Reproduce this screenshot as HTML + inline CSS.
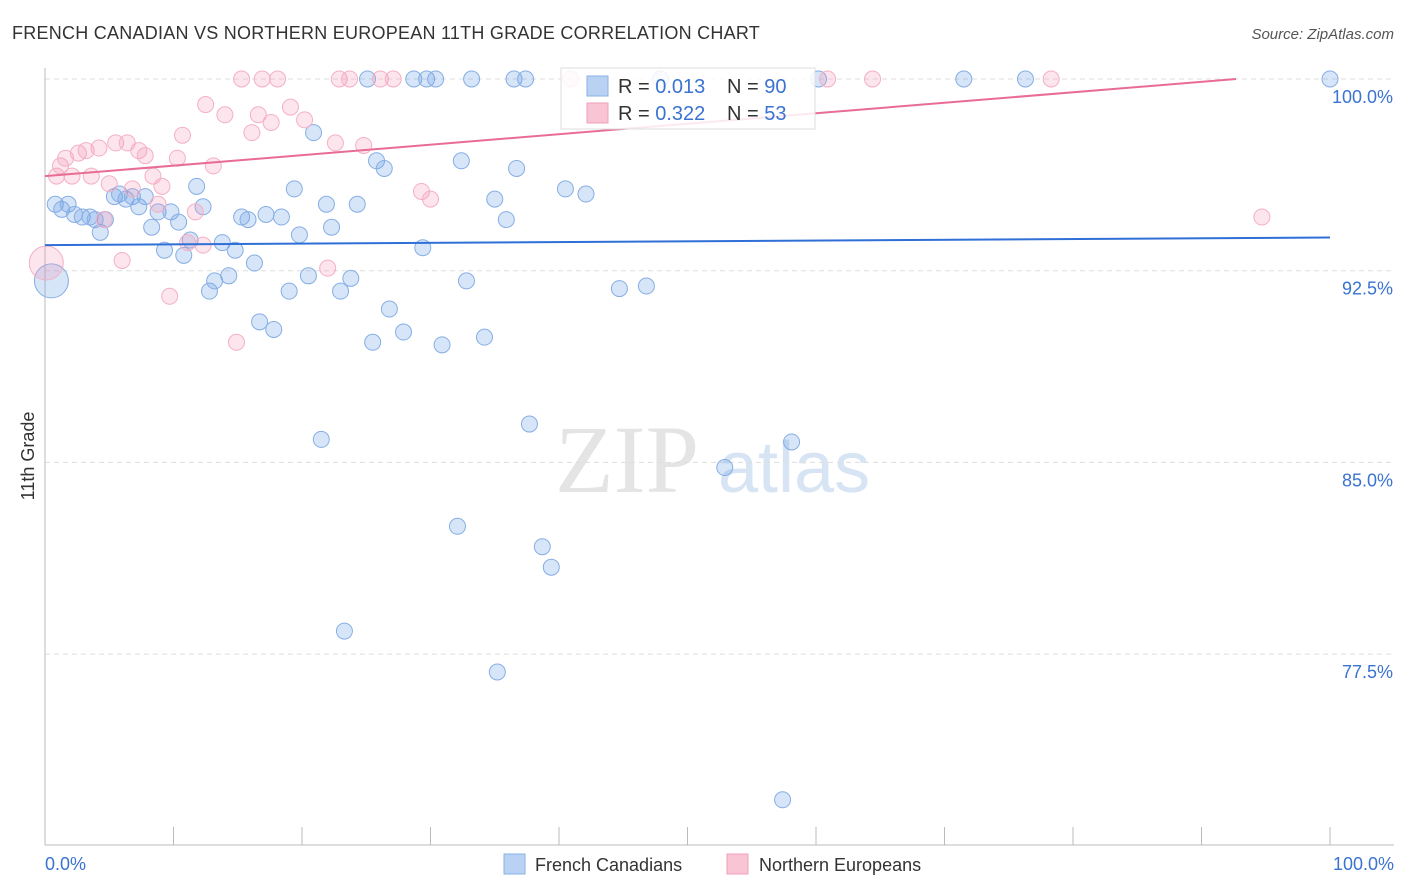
<!DOCTYPE html>
<html><head><meta charset="utf-8"><style>
body{margin:0;background:#fff;font-family:"Liberation Sans",sans-serif;}
svg{display:block}
</style></head><body>
<svg id="chart" width="1406" height="892">
<text x="12" y="39" font-size="18" fill="#333" letter-spacing="0.25">FRENCH CANADIAN VS NORTHERN EUROPEAN 11TH GRADE CORRELATION CHART</text>
<text x="1394" y="39" font-size="15" fill="#555" font-style="italic" text-anchor="end">Source: ZipAtlas.com</text>
<text x="555" y="492" font-size="96" fill="#e4e4e4" font-family="Liberation Serif,serif">ZIP</text>
<text x="718" y="492" font-size="72" fill="#d6e4f4">atlas</text>
<text transform="translate(34,456) rotate(-90)" font-size="18" fill="#333" text-anchor="middle">11th Grade</text>
<g id="grid"></g><g id="ticks"></g><g id="pts"></g><g id="lines"></g>
<g>
<rect x="561" y="68" width="254" height="61" fill="#fff" fill-opacity="0.85" stroke="#ddd"/>
<rect x="587" y="76" width="21" height="20" fill="#b9d2f4" stroke="#8ab0e6"/>
<rect x="587" y="103" width="21" height="20" fill="#f9c5d5" stroke="#f0a0b8"/>
<text x="618" y="93" font-size="20" fill="#333">R = <tspan fill="#3a73d0">0.013</tspan></text>
<text x="727" y="93" font-size="20" fill="#333">N = <tspan fill="#3a73d0">90</tspan></text>
<text x="618" y="120" font-size="20" fill="#333">R = <tspan fill="#3a73d0">0.322</tspan></text>
<text x="727" y="120" font-size="20" fill="#333">N = <tspan fill="#3a73d0">53</tspan></text>
</g>
<g>
<rect x="504" y="854" width="21" height="20" fill="#b9d2f4" stroke="#8ab0e6"/>
<text x="535" y="871" font-size="18" fill="#333">French Canadians</text>
<rect x="727" y="854" width="21" height="20" fill="#f9c5d5" stroke="#f0a0b8"/>
<text x="759" y="871" font-size="18" fill="#333">Northern Europeans</text>
</g>
<text x="45" y="870" font-size="18" fill="#3a73d0">0.0%</text>
<text x="1394" y="870" font-size="18" fill="#3a73d0" text-anchor="end">100.0%</text>
</svg>
<script>
const yTicks=[100,92.5,85,77.5];
const yTickLabels=["100.0%","92.5%","85.0%","77.5%"];
const blueX=[0.5,0.8,1.3,1.8,2.3,2.9,3.5,3.9,4.3,4.7,5.4,5.8,6.3,6.8,7.3,7.8,8.3,8.8,9.3,9.8,10.4,10.8,11.3,11.8,12.3,12.8,13.2,13.8,14.3,14.8,15.3,15.8,16.3,16.7,17.2,17.8,18.4,19.0,19.4,19.8,20.5,20.9,21.5,21.9,22.3,23.0,23.3,23.8,24.3,25.1,25.5,25.8,26.4,26.8,27.9,28.7,29.4,29.7,30.4,30.9,32.1,32.4,32.8,33.2,34.2,35.0,35.2,35.9,36.5,36.7,37.4,37.7,38.7,39.4,40.5,42.1,44.7,46.8,47.9,52.9,57.4,58.1,60.2,71.5,76.3,100];
const blueY=[92.1,95.1,94.9,95.1,94.7,94.6,94.6,94.5,94.0,94.5,95.4,95.5,95.3,95.4,95.0,95.4,94.2,94.8,93.3,94.8,94.4,93.1,93.7,95.8,95.0,91.7,92.1,93.6,92.3,93.3,94.6,94.5,92.8,90.5,94.7,90.2,94.6,91.7,95.7,93.9,92.3,97.9,85.9,95.1,94.2,91.7,78.4,92.2,95.1,100,89.7,96.8,96.5,91.0,90.1,100,93.4,100,100,89.6,82.5,96.8,92.1,100,89.9,95.3,76.8,94.5,100,96.5,100,86.5,81.7,80.9,95.7,95.5,91.8,91.9,100,84.8,71.8,85.8,100,100,100,100];
const pinkX=[0.1,0.9,1.2,1.6,2.1,2.6,3.2,3.6,4.2,4.6,5.0,5.5,6.0,6.4,6.8,7.3,7.8,8.4,8.8,9.1,9.7,10.3,10.7,11.1,11.7,12.3,12.5,13.1,14.0,14.9,15.3,16.1,16.6,16.9,17.6,18.1,19.1,20.2,22.0,22.6,22.9,23.7,24.8,26.1,27.1,29.3,30.0,40.9,60.9,64.4,78.3,94.7];
const pinkY=[92.8,96.2,96.6,96.9,96.2,97.1,97.2,96.2,97.3,94.5,95.9,97.5,92.9,97.5,95.7,97.2,97.0,96.2,95.1,95.8,91.5,96.9,97.8,93.6,94.8,93.5,99.0,96.6,98.6,89.7,100,97.9,98.6,100,98.3,100,98.9,98.4,92.6,97.5,100,100,97.4,100,100,95.6,95.3,100,100,100,100,94.6];
const blueTrend=[93.5,93.8];
const pinkTrend=[96.2,100.3];
const NS="http://www.w3.org/2000/svg";
const X=v=>45+v*12.85, Y=v=>79+(100-v)*25.56;
function mk(t,a,p){const e=document.createElementNS(NS,t);for(const k in a)e.setAttribute(k,a[k]);p.appendChild(e);return e;}
const grid=document.getElementById('grid'),ticks=document.getElementById('ticks');
yTicks.forEach((t,i)=>{
 const l=mk('line',{x1:45,x2:1394,y1:Y(t),y2:Y(t),stroke:'#ddd','stroke-dasharray':'5,4'},grid);
 
 
 const tx=mk('text',{x:1393,y:Y(t)+24,'font-size':18,fill:'#3a73d0','text-anchor':'end'},grid);
 tx.textContent=yTickLabels[i];
 
 
});
const ax=mk('line',{x1:45,x2:45,y1:68,y2:845,stroke:'#bbb'},ticks);


const bx=mk('line',{x1:45,x2:1394,y1:845,y2:845,stroke:'#bbb'},ticks);


for(let i=0;i<=10;i++){const t=mk('line',{x1:X(i*10),x2:X(i*10),y1:827,y2:845,stroke:'#bbb'},ticks);
 
 }
const pts=document.getElementById('pts');
function dots(xs,ys,fill,stroke,name,bigIdx){xs.forEach((x,i)=>{
 const c=mk('circle',{cx:X(x),cy:Y(ys[i]),r:i===bigIdx?17:8,fill:fill,stroke:stroke,'stroke-width':1},pts);
 
 });}
dots(blueX,blueY,'rgba(110,160,230,0.28)','#86aee4','french-canadian-point',0);
dots(pinkX,pinkY,'rgba(245,150,180,0.25)','#f4b0c4','northern-european-point',0);
const lines=document.getElementById('lines');
const bl=mk('line',{x1:X(0),y1:Y(blueTrend[0]),x2:X(100),y2:Y(blueTrend[1]),stroke:'#2f6fd6','stroke-width':2},lines);


let xe=100,ye=pinkTrend[1];
if(ye>100){xe=(100-pinkTrend[0])/(pinkTrend[1]-pinkTrend[0])*100;ye=100;}
const pl=mk('line',{x1:X(0),y1:Y(pinkTrend[0]),x2:X(xe),y2:Y(ye),stroke:'#e86c94','stroke-width':2},lines);


</script>
</body></html>
